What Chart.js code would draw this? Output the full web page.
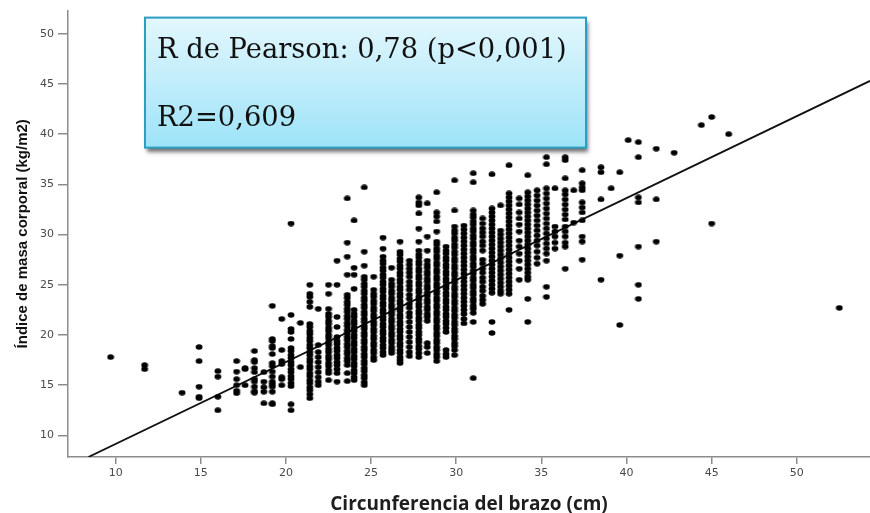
<!DOCTYPE html>
<html><head><meta charset="utf-8">
<script src="https://cdn.jsdelivr.net/npm/chart.js@4.4.1/dist/chart.umd.min.js"></script>
<style>html,body{margin:0;padding:0;background:#fff;}</style>
</head><body>
<canvas id="c" width="870" height="513"></canvas>
<script>
// ---- data ----
const xTicks = [10, 15, 20, 25, 30, 35, 40, 45, 50];
const yTicks = [10, 15, 20, 25, 30, 35, 40, 45, 50];
const xTitle = 'Circunferencia del brazo (cm)';
const yTitle = 'Índice de masa corporal (kg/m2)';
const statLines = ['R de Pearson: 0,78 (p<0,001)', 'R2=0,609'];

// arm circumference (cm) of each vertical column of points
const columnArm = [9.7, 11.7, 13.9, 14.9, 16.0, 17.1, 17.6, 18.15, 18.7, 19.2, 19.75, 20.3, 20.85, 21.4, 21.9, 22.5, 23.0, 23.6, 24.0, 24.6, 25.15, 25.7, 26.2, 26.7, 27.25, 27.8, 28.3, 28.85, 29.4, 29.9, 30.45, 31.0, 31.55, 32.1, 32.6, 33.1, 33.7, 34.2, 34.75, 35.3, 35.8, 36.4, 36.9, 37.4, 38.5, 39.1, 39.6, 40.1, 40.7, 41.75, 42.8, 44.4, 45.0, 46.0, 52.5];
// BMI values (kg/m2) in each column
const columnBMI = [
 [17.8],
 [17.0, 16.6],
 [14.25],
 [18.8, 17.4, 14.85, 13.85, 13.7],
 [16.4, 15.85, 13.85, 12.5],
 [17.4, 16.35, 15.6, 15.0, 14.45, 14.2],
 [16.7, 16.6, 15.0],
 [18.4, 17.5, 17.3, 16.7, 16.3, 15.6, 15.35, 14.85, 14.4, 14.25],
 [16.3, 15.35, 14.8, 14.35, 13.2],
 [22.9, 19.6, 19.4, 18.9, 18.7, 18.1, 17.2, 16.9, 16.35, 15.85, 15.35, 15.1, 14.85, 14.35, 13.2, 13.1],
 [21.6, 18.5, 17.4, 17.1, 15.8, 15.6, 15.0],
 [31.1, 22.0, 20.6, 20.3, 19.6, 18.7, 18.4, 18.0, 17.7, 17.3, 17.0, 16.6, 16.3, 15.9, 15.6, 15.2, 14.9, 13.1, 12.5],
 [21.2, 16.8],
 [25.0, 24.1, 23.8, 23.3, 22.8, 21.1, 20.8, 20.4, 20.1, 19.7, 19.4, 19.0, 18.7, 18.3, 18.0, 17.6, 17.3, 16.9, 16.6, 16.2, 15.9, 15.5, 15.2, 14.8, 14.5, 14.1, 13.7],
 [22.6, 19.0, 18.3, 17.8, 17.3, 16.8, 16.3, 15.8, 15.35, 15.0],
 [25.0, 24.1, 22.6, 22.1, 21.8, 21.4, 21.1, 20.7, 20.4, 20.0, 19.7, 19.3, 19.0, 18.6, 18.3, 17.9, 17.6, 17.2, 16.9, 16.5, 16.2, 15.5],
 [27.4, 25.0, 21.8, 20.8, 19.8, 19.4, 19.1, 18.7, 18.4, 18.0, 17.7, 17.3, 17.0, 16.6, 16.2, 15.35],
 [33.6, 29.2, 27.8, 26.0, 24.0, 23.7, 23.3, 23.0, 22.6, 22.3, 21.9, 21.6, 21.2, 20.9, 20.5, 20.2, 19.8, 19.5, 19.1, 18.8, 18.4, 18.1, 17.7, 17.4, 17.0, 16.2, 15.4],
 [31.4, 26.7, 26.0, 24.6, 22.5, 22.1, 21.8, 21.4, 21.1, 20.7, 20.4, 20.0, 19.7, 19.3, 19.0, 18.6, 18.3, 17.9, 17.6, 17.2, 16.9, 16.5, 16.2, 15.8, 15.5],
 [34.7, 28.3, 26.9, 25.8, 25.5, 25.1, 24.8, 24.4, 24.1, 23.7, 23.4, 23.0, 22.7, 22.3, 22.0, 21.6, 21.3, 20.9, 20.6, 20.2, 19.9, 19.5, 19.2, 18.8, 18.5, 18.1, 17.8, 17.4, 17.1, 16.7, 16.4, 16.0, 15.7, 15.3, 15.0],
 [25.8, 24.5, 24.1, 23.8, 23.4, 23.1, 22.7, 22.4, 22.0, 21.7, 21.3, 21.0, 20.6, 20.3, 19.9, 19.6, 19.2, 18.9, 18.5, 18.2, 17.8, 17.5],
 [29.7, 28.6, 27.8, 27.4, 27.1, 26.7, 26.4, 26.0, 25.7, 25.3, 25.0, 24.6, 24.3, 23.9, 23.6, 23.2, 22.9, 22.5, 22.2, 21.8, 21.5, 21.1, 20.8, 20.4, 20.1, 19.7, 19.4, 19.0, 18.7, 18.3, 18.0],
 [26.7, 25.5, 25.1, 24.8, 24.4, 24.1, 23.7, 23.4, 23.0, 22.7, 22.3, 22.0, 21.6, 21.3, 20.9, 20.6, 20.2, 19.9, 19.5, 19.2, 18.8, 18.5, 18.2],
 [29.3, 28.3, 28.0, 27.6, 27.3, 26.9, 26.6, 26.2, 25.9, 25.5, 25.2, 24.8, 24.5, 24.1, 23.8, 23.4, 23.1, 22.7, 22.4, 22.0, 21.7, 21.3, 21.0, 20.6, 20.3, 19.9, 19.6, 19.2, 18.9, 18.5, 18.2, 17.8, 17.5, 17.2],
 [27.4, 27.0, 26.6, 26.2, 25.8, 25.3, 24.9, 24.5, 24.0, 23.6, 23.1, 22.7, 22.2, 21.8, 21.3, 20.8, 20.3, 19.8, 19.3, 18.8, 18.3, 17.9],
 [33.7, 33.2, 32.9, 32.1, 30.6, 29.3, 28.4, 28.0, 27.7, 27.3, 27.0, 26.6, 26.3, 25.9, 25.6, 25.2, 24.9, 24.5, 24.2, 23.8, 23.5, 23.1, 22.8, 22.4, 22.1, 21.7, 21.4, 21.0, 20.7, 20.3, 20.0, 19.6, 19.3, 18.9, 18.6, 18.2, 17.8],
 [33.1, 29.8, 28.4, 27.4, 27.0, 26.7, 26.3, 26.0, 25.6, 25.3, 24.9, 24.6, 24.2, 23.9, 23.5, 23.2, 22.8, 22.5, 22.1, 21.8, 21.4, 19.2, 18.8, 18.2],
 [34.2, 32.2, 31.8, 31.3, 30.3, 29.3, 29.0, 28.6, 28.3, 27.9, 27.6, 27.2, 26.9, 26.5, 26.2, 25.8, 25.5, 25.1, 24.8, 24.4, 24.1, 23.7, 23.4, 23.0, 22.7, 22.3, 22.0, 21.6, 21.3, 20.9, 20.6, 20.2, 19.9, 19.5, 19.2, 18.8, 18.5, 18.1, 17.8, 17.4],
 [28.8, 28.4, 28.1, 27.7, 27.4, 27.0, 26.7, 26.3, 26.0, 25.6, 25.3, 24.9, 24.6, 24.2, 23.9, 23.5, 23.2, 22.8, 22.5, 22.1, 21.8, 21.4, 21.1, 20.7, 20.3, 18.5, 18.1, 17.8],
 [35.4, 32.4, 30.8, 30.4, 30.1, 29.7, 29.4, 29.0, 28.7, 28.3, 28.0, 27.6, 27.3, 26.9, 26.6, 26.2, 25.9, 25.5, 25.2, 24.8, 24.5, 24.1, 23.8, 23.4, 23.1, 22.7, 22.4, 22.0, 21.7, 21.3, 21.0, 20.6, 20.3, 19.9, 19.6, 19.2, 18.9, 18.5, 18.0],
 [30.9, 30.5, 30.1, 29.7, 29.3, 28.9, 28.5, 28.1, 27.7, 27.3, 26.9, 26.5, 26.1, 25.7, 25.3, 24.9, 24.5, 24.1, 23.7, 23.3, 22.9, 22.5, 22.1, 21.6, 21.15],
 [36.1, 35.2, 32.4, 32.0, 31.7, 31.3, 31.0, 30.6, 30.3, 29.9, 29.6, 29.2, 28.9, 28.5, 28.2, 27.8, 27.5, 27.1, 26.8, 26.4, 26.1, 25.7, 25.4, 25.0, 24.7, 24.3, 24.0, 23.6, 23.3, 22.9, 22.6, 22.2, 21.3, 15.7],
 [31.6, 31.1, 30.6, 30.2, 29.8, 29.3, 28.9, 28.4, 27.5, 27.1, 26.6, 26.2, 25.7, 25.3, 24.8, 24.4, 23.9, 23.5, 23.1],
 [36.0, 32.6, 32.2, 31.8, 31.4, 31.0, 30.6, 30.2, 29.8, 29.4, 29.0, 28.6, 28.2, 27.8, 27.4, 27.0, 26.6, 26.2, 25.8, 25.4, 25.0, 24.6, 24.2, 21.3, 20.2],
 [32.9, 30.4, 30.0, 29.6, 29.2, 28.8, 28.4, 28.0, 27.6, 27.2, 26.8, 26.4, 26.0, 25.6, 25.2, 24.8, 24.4, 24.1],
 [36.9, 34.1, 33.7, 33.3, 32.9, 32.5, 32.1, 31.7, 31.3, 30.9, 30.5, 30.1, 29.7, 29.3, 28.9, 28.5, 28.1, 27.7, 27.3, 26.9, 26.5, 26.1, 25.7, 25.3, 24.9, 24.5, 24.1, 22.5],
 [33.6, 33.0, 32.2, 31.6, 31.0, 30.3, 29.4, 28.8, 28.1, 27.4, 26.6, 25.5],
 [35.9, 34.2, 33.8, 33.4, 33.0, 32.6, 32.2, 31.8, 31.4, 31.0, 30.6, 30.2, 29.8, 29.4, 29.0, 28.6, 28.2, 27.8, 27.4, 27.0, 26.6, 26.2, 25.8, 25.5, 23.6, 21.3],
 [34.4, 33.9, 33.4, 32.9, 32.4, 31.9, 31.4, 30.9, 30.4, 29.9, 29.4, 28.9, 28.3, 27.7, 27.1],
 [37.7, 37.0, 34.6, 34.1, 33.6, 33.1, 32.6, 32.1, 31.6, 31.1, 30.6, 30.1, 29.6, 29.1, 28.6, 28.1, 27.4, 24.8, 23.8],
 [34.6, 30.8, 30.3, 29.8, 29.2, 28.6],
 [37.7, 37.4, 35.6, 34.4, 34.0, 33.5, 33.0, 32.5, 32.0, 31.5, 30.8, 30.3, 29.8, 29.2, 28.8, 26.6],
 [34.4, 31.2],
 [36.4, 35.1, 34.7, 34.4, 33.2, 32.7, 32.2, 31.4, 29.8, 29.3, 27.5],
 [36.7, 36.2, 33.5, 25.5],
 [34.6],
 [36.2, 27.9, 21.0],
 [39.4],
 [39.2, 37.7, 33.7, 33.2, 28.8, 25.0, 23.6],
 [38.55, 33.5, 29.3],
 [38.15],
 [40.9],
 [41.7, 31.1],
 [40.0],
 [22.7]
];
// fitted regression line, end points (arm cm, BMI)
const fitArm = [8.4, 54.3];
const fitBMI = [7.85, 45.3];

// ---- build datasets from the arrays ----
const points = [];
columnArm.forEach((x, i) => columnBMI[i].forEach(y => points.push({x, y})));
const fitLine = fitArm.map((x, i) => ({x, y: fitBMI[i]}));

// elliptic dot like the reference markers
const dot = document.createElement('canvas');
dot.width = 8; dot.height = 6;
(function(){ const g = dot.getContext('2d'); g.fillStyle = '#000'; g.beginPath(); g.ellipse(4, 3, 3.4, 2.7, 0, 0, Math.PI*2); g.fill(); })();

const statBox = {
  id: 'statBox',
  afterDraw(chart) {
    const {ctx, chartArea} = chart;
    const left = chartArea.left + 77, top = chartArea.top + 7, w = 441, h = 130;
    ctx.save();
    const grad = ctx.createLinearGradient(0, top, 0, top + h);
    grad.addColorStop(0, '#e3f7fd');
    grad.addColorStop(1, '#9de3f8');
    ctx.shadowColor = 'rgba(0,0,0,0.55)';
    ctx.shadowBlur = 4; ctx.shadowOffsetX = 2; ctx.shadowOffsetY = 4;
    ctx.fillStyle = grad;
    ctx.fillRect(left, top, w, h);
    ctx.restore();
    ctx.save();
    ctx.strokeStyle = '#2b9fc2'; ctx.lineWidth = 2;
    ctx.strokeRect(left, top, w, h);
    ctx.fillStyle = '#111';
    ctx.textBaseline = 'alphabetic';
    ctx.font = '100px "DejaVu Serif", serif';
    const m = ctx.measureText(statLines[0]).width;
    const size = 100 * 410 / m;
    ctx.font = size.toFixed(2) + 'px "DejaVu Serif", serif';
    ctx.fillText(statLines[0], left + 12, top + 40);
    ctx.fillText(statLines[1], left + 12, top + 108);
    ctx.restore();
  }
};

new Chart(document.getElementById('c'), {
  type: 'scatter',
  data: {
    datasets: [
      { data: points, pointStyle: dot, pointRadius: 3, pointHoverRadius: 3, backgroundColor: '#000', borderColor: '#000' },
      { data: fitLine, showLine: true, borderColor: '#111', borderWidth: 1.8, pointRadius: 0, fill: false }
    ]
  },
  options: {
    responsive: false,
    animation: false,
    devicePixelRatio: 1,
    layout: { autoPadding: false, padding: { left: 0, right: 0, top: 10, bottom: 0 } },
    plugins: { legend: { display: false }, tooltip: { enabled: false } },
    scales: {
      x: {
        type: 'linear', min: 7.2, max: 54.3,
        afterFit(s) { s.height = 56; },
        afterBuildTicks(s) { s.ticks = xTicks.map(v => ({value: v})); },
        ticks: { font: { family: '"DejaVu Sans", sans-serif', size: 11 }, color: '#4a4a4a', padding: 3, maxRotation: 0, autoSkip: false },
        grid: { drawOnChartArea: false, drawTicks: true, tickLength: 7, color: '#8c8c8c', lineWidth: 1.5 },
        border: { display: true, color: '#8c8c8c', width: 1.5 },
        title: { display: true, text: xTitle, color: '#1e1e1e', font: { family: '"Open Sans", sans-serif', weight: 'bold', size: 19 }, padding: { top: 0, bottom: -3 } }
      },
      y: {
        type: 'linear', min: 7.85, max: 52.3,
        afterFit(s) { s.width = 68; },
        afterBuildTicks(s) { s.ticks = yTicks.map(v => ({value: v})); },
        ticks: { font: { family: '"DejaVu Sans", sans-serif', size: 11 }, color: '#4a4a4a', padding: 4, autoSkip: false },
        grid: { drawOnChartArea: false, drawTicks: true, tickLength: 10, color: '#8c8c8c', lineWidth: 1.5 },
        border: { display: true, color: '#8c8c8c', width: 1.5 },
        title: { display: true, text: yTitle, color: '#111', font: { family: '"Liberation Sans Narrow", "Arial Narrow", "Liberation Sans", sans-serif', weight: 'bold', size: 15 }, padding: { top: 14, bottom: 0 } }
      }
    }
  },
  plugins: [statBox]
});
</script>
</body></html>
